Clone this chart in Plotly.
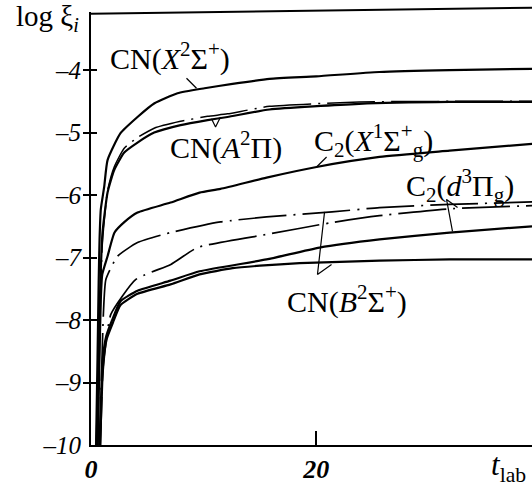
import plotly.graph_objects as go

# ---- data (t_lab, log xi) ----
t_cnx = [0.45, 0.58, 0.68, 0.76, 0.87, 1.17, 1.47, 2.62, 4.13, 5.64, 7.68, 10.08, 12.57, 15.85, 20.0, 25.6, 31.84, 39.16]
v_cnx = [-10.0, -8.6, -7.4, -6.71, -6.23, -5.87, -5.44, -5.01, -4.75, -4.53, -4.37, -4.29, -4.22, -4.14, -4.10, -4.03, -4.00, -3.98]

t_cna = [0.5, 0.7, 0.85, 1.02, 1.47, 2.06, 2.95, 4.13, 5.61, 7.95, 10.35, 12.12, 15.85, 23.8, 31.84, 39.16]
v_cna = [-10.0, -8.3, -7.3, -6.6, -5.96, -5.6, -5.32, -5.16, -5.0, -4.88, -4.8, -4.75, -4.63, -4.54, -4.51, -4.51]

t_cna_dd = [0.6, 0.8, 1.0, 1.47, 2.06, 2.95, 4.13, 5.61, 7.95, 10.35, 12.12, 15.85, 23.8, 31.84, 39.16]
v_cna_dd = [-10.0, -8.0, -6.8, -5.93, -5.55, -5.25, -5.08, -4.93, -4.82, -4.74, -4.70, -4.58, -4.51, -4.50, -4.50]

t_c2x = [0.6, 0.75, 0.87, 1.0, 1.47, 2.09, 2.98, 4.13, 7.06, 9.64, 11.5, 15.59, 20.03, 25.62, 31.84, 39.16]
v_c2x = [-10.0, -8.63, -7.67, -7.27, -6.98, -6.6, -6.43, -6.28, -6.12, -5.96, -5.9, -5.72, -5.55, -5.39, -5.29, -5.18]

# dash-dot, upper (CN(B) leader)
t_dd_a = [0.8, 0.95, 1.1, 1.32, 2.35, 4.13, 7.06, 11.5, 15.59, 21.4, 25.62, 31.84, 39.16]
v_dd_a = [-10.0, -8.8, -7.9, -7.35, -6.98, -6.76, -6.6, -6.43, -6.35, -6.27, -6.2, -6.15, -6.11]

# dash-dot, lower (C2(d) leader)
t_dd_b = [0.85, 1.0, 1.3, 1.76, 3.98, 7.09, 9.46, 15.59, 21.4, 25.62, 31.84, 39.16]
v_dd_b = [-10.0, -9.0, -8.4, -7.91, -7.35, -7.11, -6.84, -6.63, -6.44, -6.33, -6.22, -6.17]

# solid, C2(d)
t_sc = [0.75, 0.9, 1.02, 1.35, 1.9, 2.62, 4.13, 7.06, 9.64, 15.59, 20.29, 25.62, 31.84, 39.16]
v_sc = [-10.0, -9.22, -8.67, -8.26, -7.99, -7.7, -7.53, -7.37, -7.22, -7.03, -6.84, -6.71, -6.6, -6.5]

# solid, CN(B)
t_sd = [0.8, 0.95, 1.07, 1.4, 1.95, 2.62, 4.13, 7.06, 9.64, 12.57, 15.0, 18.52, 25.62, 31.84, 39.16]
v_sd = [-10.0, -9.25, -8.72, -8.3, -8.04, -7.76, -7.58, -7.43, -7.27, -7.17, -7.13, -7.09, -7.05, -7.03, -7.03]

y_ticks = [-10, -9, -8, -7, -6, -5, -4]
y_ticktext = ["\u201310", "\u20139", "\u20138", "\u20137", "\u20136", "\u20135", "\u20134"]
x_ticks = [0, 20]
x_ticktext = ["0", "20"]

SERIF = "Liberation Serif"
DD = "48px,7px,2px,7px"

fig = go.Figure()

def add(t, v, dash=None, w=2.2):
    fig.add_trace(go.Scatter(
        x=t, y=v, mode="lines",
        line=dict(color="black", width=w, dash=dash or "solid", shape="spline", smoothing=0.5),
        showlegend=False, hoverinfo="skip"))

add(t_cnx, v_cnx)
add(t_cna, v_cna)
add(t_cna_dd, v_cna_dd, DD, 1.5)
add(t_c2x, v_c2x)
add(t_dd_a, v_dd_a, DD, 1.7)
add(t_dd_b, v_dd_b, DD, 1.7)
add(t_sc, v_sc)
add(t_sd, v_sd)

# leader lines for the labels (data coordinates)
leaders = [
    [(8.48, -4.13), (9.37, -4.29)],
    [(10.7, -4.78), (11.06, -4.91), (11.5, -4.75)],
    [(20.03, -5.55), (20.92, -5.39)],
    [(32.1, -6.58), (31.57, -6.07), (32.55, -6.2)],
    [(20.74, -6.27), (20.11, -7.27), (21.36, -7.11)],
]
for pts in leaders:
    fig.add_trace(go.Scatter(
        x=[p[0] for p in pts], y=[p[1] for p in pts], mode="lines",
        line=dict(color="black", width=1.2), showlegend=False, hoverinfo="skip"))

labels = [
    (7.0, -3.78, "CN(<i>X</i><sup>2</sup>\u03a3<sup>+</sup>)"),
    (11.95, -5.21, "CN(<i>A</i><sup>2</sup>\u03a0)"),
    (25.1, -5.13, "C<sub>2</sub>(<i>X</i><sup>1</sup>\u03a3<sup>+</sup><sub>g</sub>)"),
    (32.8, -5.85, "C<sub>2</sub>(<i>d</i><sup>3</sup>\u03a0<sub>g</sub>)"),
    (22.7, -7.67, "CN(<i>B</i><sup>2</sup>\u03a3<sup>+</sup>)"),
]
for x, y, txt in labels:
    fig.add_annotation(x=x, y=y, text=txt, showarrow=False,
                       font=dict(family=SERIF, size=30, color="black"),
                       xanchor="center", yanchor="middle")

fig.add_annotation(xref="paper", yref="paper", x=-0.098, y=0.985,
                   text="log \u03be<sub><i>i</i></sub>", showarrow=False,
                   font=dict(family=SERIF, size=29, color="black"),
                   xanchor="center", yanchor="middle")
fig.add_annotation(xref="paper", yref="paper", x=0.902, y=-0.05,
                   text="<i>t</i><sub>lab</sub>", showarrow=False,
                   font=dict(family=SERIF, size=31, color="black"),
                   xanchor="left", yanchor="middle")

# top frame line (slightly tilted as in the scan)
fig.add_shape(type="line", xref="paper", yref="paper", x0=0, x1=1, y0=0.996, y1=1.010,
              line=dict(color="black", width=2))

fig.update_layout(
    width=532, height=483,
    margin=dict(l=91, r=0, t=12, b=38),
    paper_bgcolor="white", plot_bgcolor="white",
    xaxis=dict(range=[0, 39.16], showgrid=False, zeroline=False,
               showline=True, linecolor="black", linewidth=2,
               tickvals=x_ticks, ticktext=x_ticktext,
               ticks="inside", ticklen=14, tickwidth=1.5, tickcolor="black",
               tickfont=dict(family=SERIF, size=26, color="black", style="italic", weight="bold")),
    yaxis=dict(range=[-10, -3.07], showgrid=False, zeroline=False,
               showline=True, linecolor="black", linewidth=2,
               tickvals=y_ticks, ticktext=y_ticktext,
               ticks="inside", ticklen=6, tickwidth=1.5, tickcolor="black",
               ticklabelstandoff=3,
               minor=dict(tickvals=y_ticks, ticks="outside", ticklen=6, tickwidth=1.5, tickcolor="black"),
               tickfont=dict(family=SERIF, size=25, color="black", style="italic")),
)

fig.write_html("out.html", config={"displayModeBar": False},
               post_script="document.body.style.margin='0';document.body.style.overflow='hidden';")
